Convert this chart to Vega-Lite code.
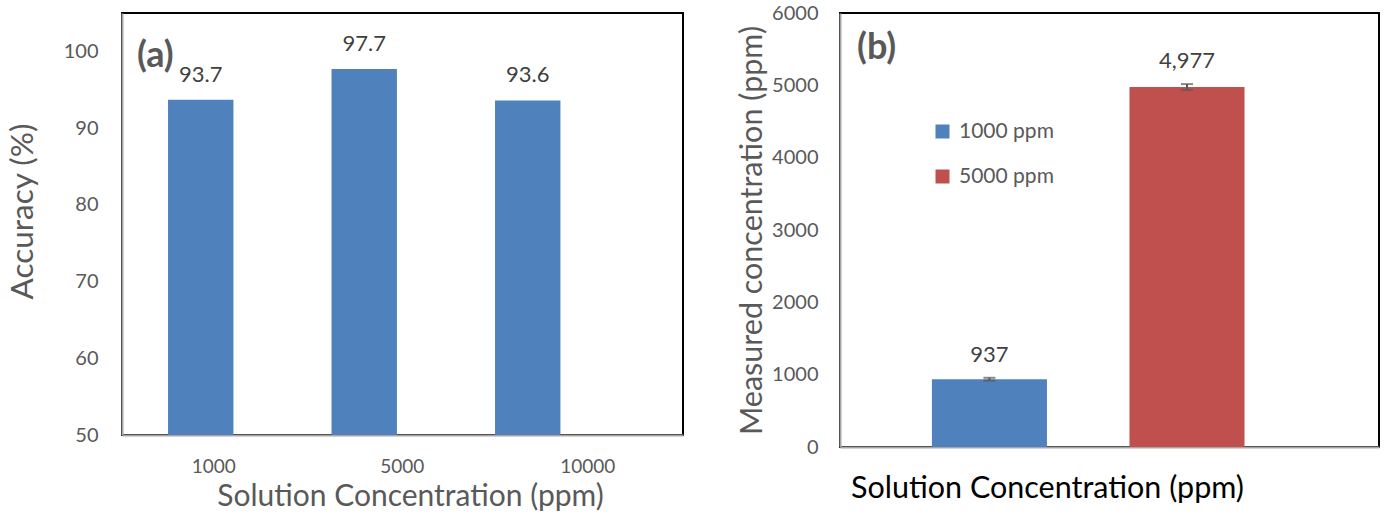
{
  "$schema": "https://vega.github.io/schema/vega-lite/v6.json",
  "background": "white",
  "padding": {"left": 6, "top": 2, "right": 5, "bottom": 0},
  "config": {
    "font": "Lato",
    "view": {"stroke": "#000000", "strokeWidth": 2},
    "axis": {
      "grid": false,
      "ticks": false,
      "domainColor": "#a6a6a6",
      "domainWidth": 2,
      "labelColor": "#595959",
      "titleColor": "#595959",
      "labelFont": "Lato",
      "titleFont": "Lato",
      "titleFontWeight": "normal"
    }
  },
  "bounds": "flush",
  "spacing": 157,
  "resolve": {"scale": {"color": "independent"}, "legend": {"color": "independent"}},
  "hconcat": [
    {
      "width": 561,
      "height": 422,
      "title": {"text": "(a)", "anchor": "start", "frame": "group", "offset": -62, "dx": 15, "fontSize": 36, "fontWeight": "bold", "color": "#595959", "font": "Lato"},
      "data": {"values": [
        {"conc": "1000", "acc": 93.7},
        {"conc": "5000", "acc": 97.7},
        {"conc": "10000", "acc": 93.6}
      ]},
      "encoding": {
        "x": {"field": "conc", "type": "ordinal", "sort": null,
          "scale": {"paddingInner": 0.6, "paddingOuter": 0.5156, "align": 0.273},
          "axis": {"labelAngle": 0, "labelFontSize": 19, "labelPadding": 22,
            "labelOffset": {"condition": [{"test": "datum.value === '5000'", "value": 38}, {"test": "datum.value === '10000'", "value": 60}], "value": 13},
            "title": "Solution Concentration (ppm)", "titleFontSize": 30, "titlePadding": 5, "titleX": 288, "titleAlign": "center"}},
        "y": {"field": "acc", "type": "quantitative",
          "scale": {"domain": [50, 105], "nice": false, "zero": false},
          "axis": {"values": [50, 60, 70, 80, 90, 100], "labelFontSize": 20, "labelPadding": 24, "title": "Accuracy (%)", "titleFontSize": 31.5, "titlePadding": 24, "titleY": 198}}
      },
      "layer": [
        {"mark": {"type": "bar", "color": "#4F81BD"}, "encoding": {"y2": {"datum": 50}}},
        {"mark": {"type": "text", "baseline": "alphabetic", "dy": -18, "fontSize": 22, "color": "#404040"},
          "encoding": {"text": {"field": "acc", "type": "quantitative", "format": ".1f"}}}
      ]
    },
    {
      "width": 539,
      "height": 434,
      "title": {"text": "(b)", "anchor": "start", "frame": "group", "offset": -64, "dx": 17, "fontSize": 36, "fontWeight": "bold", "color": "#595959", "font": "Lato"},
      "data": {"values": [
        {"series": "1000 ppm", "val": 937, "lo": 917, "hi": 957},
        {"series": "5000 ppm", "val": 4977, "lo": 4937, "hi": 5017}
      ]},
      "encoding": {
        "x": {"field": "series", "type": "nominal", "sort": null,
          "scale": {"paddingInner": 0.4177, "paddingOuter": 0.573, "align": 0.406},
          "axis": {"labels": false, "title": "Solution Concentration  (ppm)", "titleColor": "#000000", "titleFontSize": 30.5, "titlePadding": 26, "titleX": 207, "titleAlign": "center"}}
      },
      "layer": [
        {"mark": {"type": "bar"},
          "encoding": {
            "y": {"field": "val", "type": "quantitative",
              "scale": {"domain": [0, 6000], "nice": false},
              "axis": {"values": [0, 1000, 2000, 3000, 4000, 5000, 6000], "format": "d", "labelFontSize": 20, "labelPadding": 22, "title": "Measured concentration (ppm)", "titleFontSize": 30.5, "titlePadding": 4}},
            "color": {"field": "series", "type": "nominal", "sort": null,
              "scale": {"range": ["#4F81BD", "#C0504D"]},
              "legend": {"orient": "none", "legendX": 92, "legendY": 108, "title": null, "symbolType": "square", "symbolSize": 196, "symbolStrokeWidth": 0, "labelFontSize": 21, "labelColor": "#595959", "rowPadding": 23, "labelOffset": 6}}
          }},
        {"mark": {"type": "rule", "color": "#595959", "strokeWidth": 2},
          "encoding": {"y": {"field": "lo", "type": "quantitative"}, "y2": {"field": "hi"}}},
        {"mark": {"type": "tick", "color": "#595959", "thickness": 2, "size": 12, "orient": "horizontal"},
          "encoding": {"y": {"field": "lo", "type": "quantitative"}}},
        {"mark": {"type": "tick", "color": "#595959", "thickness": 2, "size": 12, "orient": "horizontal"},
          "encoding": {"y": {"field": "hi", "type": "quantitative"}}},
        {"mark": {"type": "text", "baseline": "alphabetic", "dy": -16, "fontSize": 22, "color": "#404040"},
          "encoding": {"y": {"field": "hi", "type": "quantitative"}, "text": {"field": "val", "type": "quantitative", "format": ","}}}
      ]
    }
  ]
}
